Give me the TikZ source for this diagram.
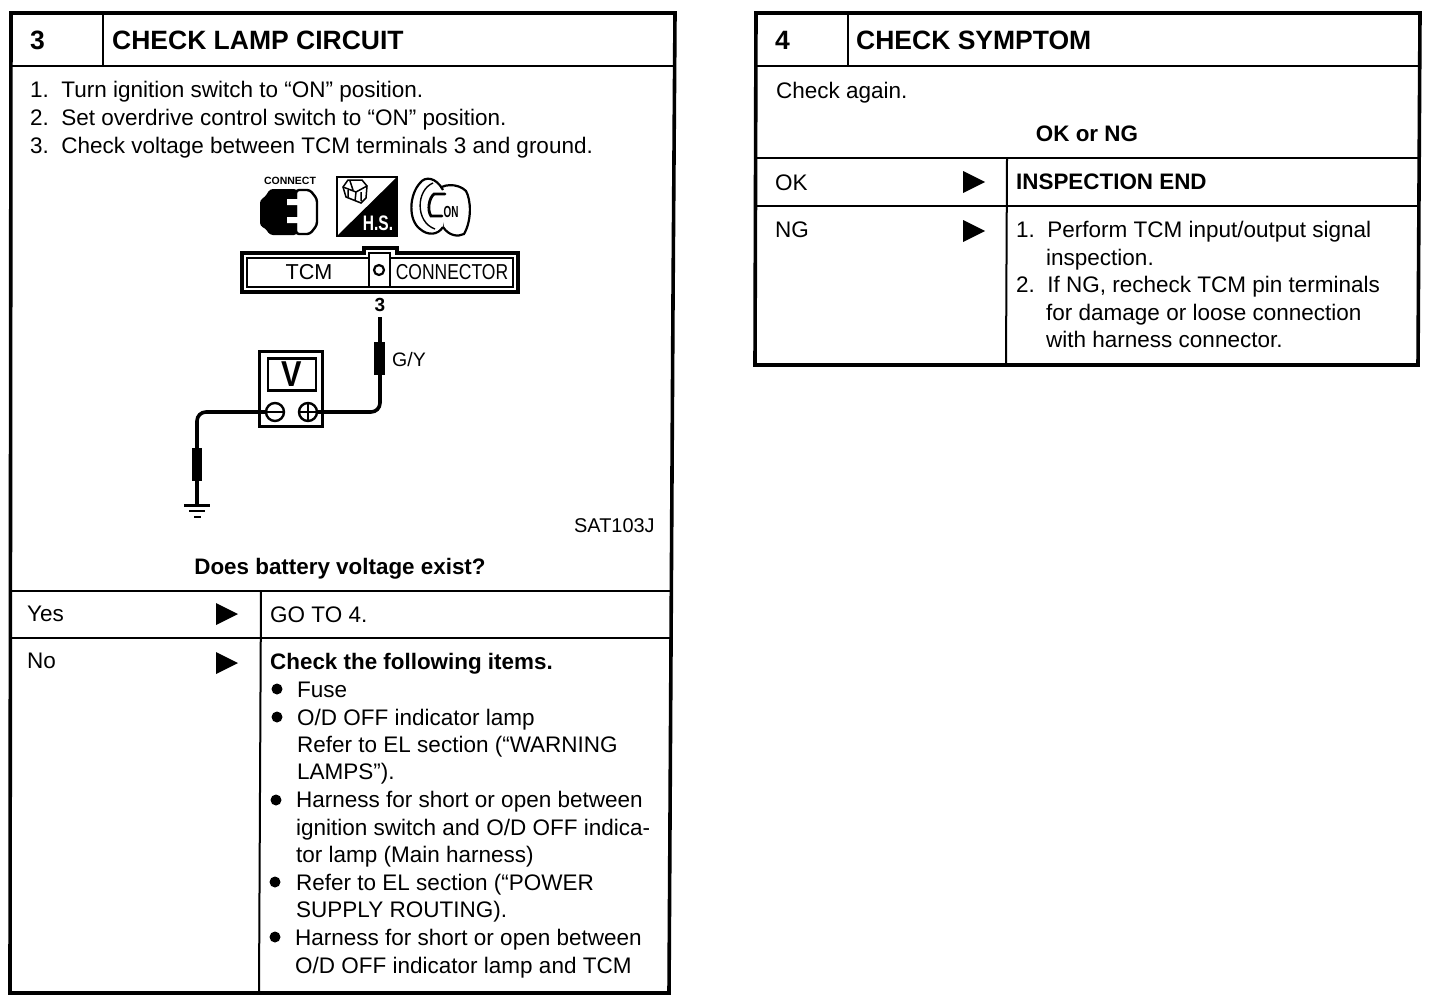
\documentclass[tikz,border=0pt]{standalone}
\usepackage{fontspec}
\setmainfont{Liberation Sans}
\begin{document}
\begin{tikzpicture}[x=1pt,y=-1pt,
  txt/.style={anchor=base west,inner sep=0pt,font=\fontsize{22.5}{24}\selectfont},
  btxt/.style={txt,font=\fontsize{22.4}{24}\bfseries\selectfont},
  ttl/.style={txt,font=\fontsize{26.5}{30}\bfseries\selectfont},
  frame/.style={draw=black,line width=3.6pt},
  rule/.style={draw=black,line width=2pt},
  wire/.style={draw=black,line width=3.6pt,rounded corners=9pt},
  fuse/.style={fill=black,draw=none,minimum width=10.5pt,minimum height=33pt,inner sep=0pt},
  tri/.style={fill=black,draw=none},
  bul/.style={fill=black,circle,inner sep=0pt,minimum size=11pt}]
\useasboundingbox (0,0) rectangle (1456,1004);
% ---------- left panel
\draw[frame] (11,13) -- (675,13) -- (673,300) -- (669,993) -- (10,993) -- cycle;
\draw[rule] (10,66) -- (674,66);
\draw[rule] (103,13) -- (103,66);
\draw[rule] (10,591) -- (670,591);
\draw[rule] (10,638) -- (670,638);
\draw[rule] (261,591) -- (259,993);
\node[ttl] (n3) at (30,49) {3};
\node[ttl] (t3) at (112,49) {CHECK LAMP CIRCUIT};
\node[txt] (l1) at (30,97) {1.\hspace{12.4pt}Turn ignition switch to “ON” position.};
\node[txt] (l2) at (30,125) {2.\hspace{12.4pt}Set overdrive control switch to “ON” position.};
\node[txt] (l3) at (30,153) {3.\hspace{12.4pt}Check voltage between TCM terminals 3 and ground.};
% icons
\node[anchor=center,inner sep=0pt,font=\fontsize{10.5}{11}\bfseries\selectfont] (conn) at (290,181) {CONNECT};
\draw[line width=2.4pt,fill=white,rounded corners=3pt] (296,190) -- (310,190) -- (317,199) -- (317,225) -- (310,234) -- (296,234) -- cycle;
\fill[black,rounded corners=3pt] (270,189) -- (297,189) -- (297,235) -- (270,235) -- (265,228) -- (260,226) -- (260,200) -- (265,197) -- cycle;
\fill[white] (287,199) rectangle (298,205) (287,217) rectangle (298,223);
\draw[line width=2.4pt] (337,177) rectangle (397,236);
\fill[black] (337,236) -- (397,177) -- (397,236) -- cycle;
\draw[line width=1.5pt,fill=white] (343,187) -- (348,180) -- (362,180) -- (367,186) -- (366,198) -- (361,203) -- (346,197) -- cycle;
\draw[line width=1.5pt] (343,187) -- (356,192) -- (367,186) (356,192) -- (355,201) (350,181) -- (353,190) (348,190) -- (348,197) (361,192) -- (361,201);
\node[inner sep=0pt,text=white,font=\fontsize{21}{22}\bfseries\selectfont] (hs) at (378,223) {\scalebox{0.74}[1]{H.S.}};
\draw[line width=2.2pt,fill=white] (435,192) .. controls (442,183) and (458,183) .. (466,191) .. controls (471,200) and (472,220) .. (464,234) .. controls (458,237) and (449,236) .. (443,227) -- cycle;
\draw[line width=2.2pt,fill=white] (443,190) .. controls (436,177) and (425,176) .. (420,183) .. controls (409,195) and (408,220) .. (420,229) .. controls (428,236) and (438,235) .. (443,227);
\draw[line width=1.4pt] (433,183) .. controls (416,190) and (415,222) .. (435,229);
\draw[line width=2.8pt,line cap=round] (445,194) -- (434,194) .. controls (429,198) and (427,210) .. (431,216) -- (442,216);
\node[inner sep=0pt,font=\fontsize{16}{17}\bfseries\selectfont] (on) at (451,212) {\scalebox{0.62}[1]{ON}};
% TCM connector
\draw[line width=3.2pt] (242,253) -- (364,253) -- (364,248) -- (397,248) -- (397,253) -- (518,253) -- (518,292) -- (242,292) -- cycle;
\draw[line width=2.4pt] (247,258) -- (369,258) -- (369,253) -- (390,253) -- (390,258) -- (513,258) -- (513,287) -- (247,287) -- cycle;
\draw[line width=2.4pt] (369,258) -- (369,287) (390,258) -- (390,287);
\node[inner sep=0pt,font=\fontsize{21.6}{24}\selectfont] (tcm) at (309,272) {TCM};
\node[draw=black,line width=2.2pt,circle,inner sep=0pt,minimum size=10pt] (pin) at (379,270) {};
\node[inner sep=0pt,font=\fontsize{21.6}{24}\selectfont] (cn) at (452,272) {\scalebox{0.81}[1]{CONNECTOR}};
\node[inner sep=0pt,font=\fontsize{19}{20}\bfseries\selectfont] (p3) at (380,305) {3};
% meter
\node[draw=black,line width=2.6pt,minimum width=63pt,minimum height=75pt,inner sep=0pt] (meter) at (291,389) {};
\node[draw=black,line width=2.6pt,minimum width=48pt,minimum height=32pt,inner sep=0pt,font=\fontsize{36}{38}\bfseries\selectfont] (vv) at (292,374.5) {\scalebox{0.85}[1]{V}};
\node[draw=black,line width=2.4pt,circle,minimum size=18pt,inner sep=0pt] (minus) at (275,412) {};
\node[draw=black,line width=2.4pt,circle,minimum size=18pt,inner sep=0pt] (plus) at (308,412) {};
\draw[line width=2.2pt] (minus.west) -- (minus.east) (plus.west) -- (plus.east) (plus.north) -- (plus.south);
\coordinate (w3) at (380,317);
\coordinate (gnd) at (197,505);
\draw[wire] (plus.east) -- (380,412) -- (w3);
\draw[wire] (minus.west) -- (197,412) -- (gnd);
\node[fuse] (f1) at (379.5,358) {};
\node[fuse] (f2) at (197,464) {};
\node[txt,font=\fontsize{19.5}{20}\selectfont] (gy) at (392,366) {G/Y};
\draw[line width=2.4pt] (184,505.5) -- (210,505.5);
\draw[line width=2.2pt] (189,511) -- (205,511);
\draw[line width=2.4pt] (194,517) -- (201,517);
\node[txt,font=\fontsize{19.9}{22}\selectfont] (sat) at (574,532) {SAT103J};
\node[btxt,anchor=base] (q3) at (340,574) {Does battery voltage exist?};
\node[txt] (yes) at (27,621) {Yes};
\fill[tri] (216,603) -- (238,614) -- (216,625) -- cycle;
\node[txt] (go) at (270,622) {GO TO 4.};
\node[txt] (no) at (27,668) {No};
\fill[tri] (216,652) -- (238,663) -- (216,674) -- cycle;
\node[btxt] (chk) at (270,669) {Check the following items.};
\node[bul] (b1) at (277,689) {};
\node[txt] (a1) at (297,697) {Fuse};
\node[bul] (b2) at (277,717) {};
\node[txt] (a2) at (297,725) {O/D OFF indicator lamp};
\node[txt] (a3) at (297,752) {Refer to EL section (“WARNING};
\node[txt] (a4) at (297,779) {LAMPS”).};
\node[bul] (b3) at (276,800) {};
\node[txt] (a5) at (296,807) {Harness for short or open between};
\node[txt] (a6) at (296,835) {ignition switch and O/D OFF indica-};
\node[txt] (a7) at (296,862) {tor lamp (Main harness)};
\node[bul] (b4) at (275,882) {};
\node[txt] (a8) at (296,890) {Refer to EL section (“POWER};
\node[txt] (a9) at (296,917) {SUPPLY ROUTING).};
\node[bul] (b5) at (275,937) {};
\node[txt] (a10) at (295,945) {Harness for short or open between};
\node[txt] (a11) at (295,973) {O/D OFF indicator lamp and TCM};
% ---------- right panel
\draw[frame] (756,13) -- (1420,13) -- (1418,365) -- (755,365) -- cycle;
\draw[rule] (756,66) -- (1420,66);
\draw[rule] (848,13) -- (848,66);
\draw[rule] (756,158) -- (1419,158);
\draw[rule] (756,206) -- (1419,206);
\draw[rule] (1007,158) -- (1006,365);
\node[ttl] (n4) at (775,49) {4};
\node[ttl] (t4) at (856,49) {CHECK SYMPTOM};
\node[txt] (ca) at (776,98) {Check again.};
\node[btxt,anchor=base] (okng) at (1087,141) {OK or NG};
\node[txt] (ok) at (775,190) {OK};
\fill[tri] (963,171) -- (985,182) -- (963,193) -- cycle;
\node[btxt] (ie) at (1016,189) {INSPECTION END};
\node[txt] (ng) at (775,237) {NG};
\fill[tri] (963,220) -- (985,231) -- (963,242) -- cycle;
\node[txt] (r1) at (1016,237) {1.\hspace{12.4pt}Perform TCM input/output signal};
\node[txt] (r2) at (1046,265) {inspection.};
\node[txt] (r3) at (1016,292) {2.\hspace{12.4pt}If NG, recheck TCM pin terminals};
\node[txt] (r4) at (1046,320) {for damage or loose connection};
\node[txt] (r5) at (1046,347) {with harness connector.};
\end{tikzpicture}
\end{document}
